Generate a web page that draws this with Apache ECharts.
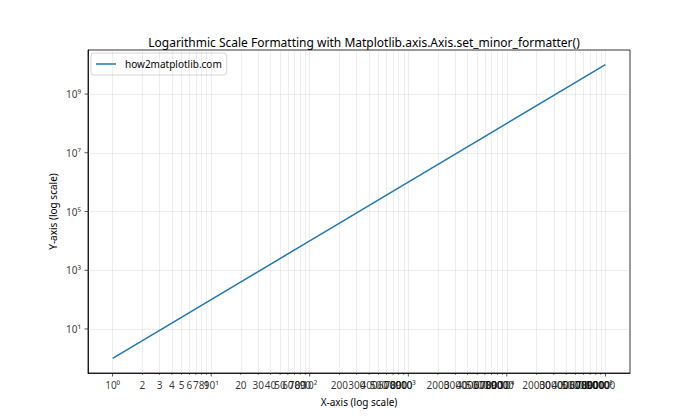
<!DOCTYPE html>
<html>
<head>
<meta charset="utf-8">
<script src="https://cdn.jsdelivr.net/npm/echarts@6/dist/echarts.min.js"></script>
<style>html,body{margin:0;padding:0;background:#fff}#chart{width:700px;height:420px}</style>
</head>
<body>
<div id="chart"></div>
<script>
// ---- data ----
const seriesName = 'how2matplotlib.com';
const seriesX = [1, 10, 100, 1000, 10000, 100000];
const seriesY = [1, 100, 1e4, 1e6, 1e8, 1e10];
const xMajorTicks = [1, 10, 100, 1000, 10000, 100000];
const xMinorSubs = [2, 3, 4, 5, 6, 7, 8, 9];
const yMajorTicks = [10, 1e3, 1e5, 1e7, 1e9];
const xLimits = [Math.pow(10, -0.25), Math.pow(10, 5.25)];
const yLimits = [Math.pow(10, -0.5), Math.pow(10, 10.5)];
const titleText = 'Logarithmic Scale Formatting with Matplotlib.axis.Axis.set_minor_formatter()';
const xLabel = 'X-axis (log scale)';
const yLabel = 'Y-axis (log scale)';

const FONT = 'Noto Sans';
const sup = {'0':'⁰','1':'¹','2':'²','3':'³','4':'⁴','5':'⁵','6':'⁶','7':'⁷','8':'⁸','9':'⁹','-':'⁻'};
function powLabel(v) {
  const e = String(Math.round(Math.log10(v)));
  return '10' + e.split('').map(c => sup[c]).join('');
}
const xMinorTicks = [];
xMajorTicks.slice(0, -1).forEach(m => xMinorSubs.forEach(s => xMinorTicks.push(s * m)));

const lineData = seriesX.map((x, i) => [x, seriesY[i]]);
const gridColor = 'rgba(176,176,176,0.28)';

const chart = echarts.init(document.getElementById('chart'), null, {renderer: 'svg'});
chart.setOption({
  animation: false,
  backgroundColor: '#fff',
  textStyle: {fontFamily: FONT},
  title: {
    text: titleText, left: 359, top: 31, textAlign: 'center',
    textStyle: {fontFamily: FONT, fontSize: 12, fontWeight: 'normal', color: '#000'}
  },
  legend: {
    data: [{name: seriesName, icon: 'rect'}], left: 91, top: 53, orient: 'vertical',
    itemWidth: 20, itemHeight: 1.5, padding: [6, 5, 6, 5],
    borderColor: '#d6d6d6', borderWidth: 1, borderRadius: 3, backgroundColor: '#fff',
    textStyle: {fontFamily: FONT, fontSize: 10, color: '#000', padding: [0, 0, 0, 4]}
  },
  grid: {left: 88, right: 70, top: 50, bottom: 47, show: true, borderColor: '#000', borderWidth: 0.8, containLabel: false},
  xAxis: {
    type: 'log', logBase: 10, min: xLimits[0], max: xLimits[1],
    name: xLabel, nameLocation: 'middle', nameGap: 24,
    nameTextStyle: {fontFamily: FONT, fontSize: 10, color: '#000'},
    axisLine: {show: true, lineStyle: {color: '#000', width: 0.8}},
    axisTick: {show: false}, axisLabel: {show: false}, splitLine: {show: false}
  },
  yAxis: {
    type: 'log', logBase: 10, min: yLimits[0], max: yLimits[1],
    name: yLabel, nameLocation: 'middle', nameGap: 30, nameRotate: 90,
    nameTextStyle: {fontFamily: FONT, fontSize: 10, color: '#000'},
    axisLine: {show: true, lineStyle: {color: '#000', width: 0.8}},
    axisTick: {show: false}, axisLabel: {show: false}, splitLine: {show: false}
  },
  series: [
    { // grid lines
      type: 'line', data: [], silent: true, z: 1,
      markLine: {
        silent: true, symbol: 'none', label: {show: false}, animation: false,
        lineStyle: {color: gridColor, width: 0.8, type: 'solid'},
        data: xMajorTicks.concat(xMinorTicks).map(v => ({xAxis: v}))
          .concat(yMajorTicks.map(v => ({yAxis: v})))
      }
    },
    {
      name: seriesName, type: 'line', data: lineData, symbol: 'none', showSymbol: false,
      lineStyle: {color: '#1f77b4', width: 1.5}, itemStyle: {color: '#1f77b4'}, z: 5
    },
    { // x major ticks + labels
      type: 'scatter', silent: true, clip: false, z: 6,
      data: xMajorTicks.map(v => [v, yLimits[0]]),
      symbol: 'rect', symbolSize: [0.8, 3.5], symbolOffset: [0, '50%'],
      itemStyle: {color: '#000'},
      label: {show: true, position: 'bottom', distance: 3, formatter: p => powLabel(p.value[0]),
        fontFamily: FONT, fontSize: 10, color: '#000'}
    },
    { // x minor ticks + labels
      type: 'scatter', silent: true, clip: false, z: 6,
      data: xMinorTicks.map(v => [v, yLimits[0]]),
      symbol: 'rect', symbolSize: [0.6, 2], symbolOffset: [0, '50%'],
      itemStyle: {color: '#000'},
      label: {show: true, position: 'bottom', distance: 4.5, formatter: p => String(Math.round(p.value[0])),
        fontFamily: FONT, fontSize: 10, color: '#000'}
    },
    { // y major ticks + labels
      type: 'scatter', silent: true, clip: false, z: 6,
      data: yMajorTicks.map(v => [xLimits[0], v]),
      symbol: 'rect', symbolSize: [3.5, 0.8], symbolOffset: ['-50%', 0],
      itemStyle: {color: '#000'},
      label: {show: true, position: 'left', distance: 3.5, formatter: p => powLabel(p.value[1]),
        fontFamily: FONT, fontSize: 10, color: '#000'}
    }
  ]
});
</script>
</body>
</html>
